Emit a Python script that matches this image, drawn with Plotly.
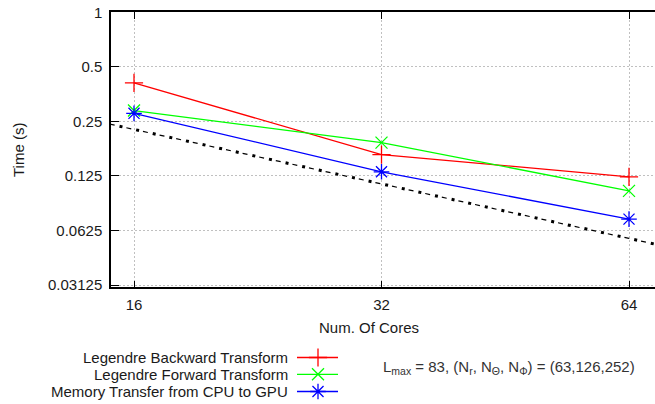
import plotly.graph_objects as go
import math

# ---------------- data ----------------
cores = [16, 32, 64]
backward = [0.408, 0.164, 0.1236]
forward = [0.287, 0.191, 0.1034]
memcopy = [0.277, 0.1318, 0.0722]
ideal_cores = [14, 16, 32, 64, 72]
ideal_time = [0.258, 0.226, 0.113, 0.0565, 0.0502]
y_ticks = [1, 0.5, 0.25, 0.125, 0.0625, 0.03125]
y_ticktext = ["1", "0.5", "0.25", "0.125", "0.0625", "0.03125"]
x_ticks = [16, 32, 64]
series_names = ["Legendre Backward Transform", "Legendre Forward Transform",
                "Memory Transfer from CPU to GPU"]

W, H = 655, 404
FONT = "Liberation Sans, Arial, sans-serif"
TXT = "#1a1a1a"
FS = 15
colors = ["#ff0000", "#00ff00", "#0000ff"]
symbols = ["cross-thin", "x-thin", "asterisk"]
msizes = [13, 12, 13]

# plot area in pixels
PL, PR, PT, PB = 111, 655, 12, 287.3

fig = go.Figure()

for vals, name, c, s, ms in zip([backward, forward, memcopy], series_names, colors, symbols, msizes):
    fig.add_trace(go.Scatter(
        x=cores, y=vals, mode="lines+markers", name=name, showlegend=False,
        line=dict(color=c, width=1.3),
        marker=dict(symbol=s, size=ms, color=c, line=dict(color=c, width=1.3)),
        xaxis="x", yaxis="y"))

# ideal scaling line: dashes + dots
fig.add_trace(go.Scatter(x=ideal_cores, y=ideal_time, mode="lines", showlegend=False,
                         line=dict(color="black", width=1.2, dash="0px,7px,5px,5px"),
                         xaxis="x", yaxis="y", hoverinfo="skip"))
fig.add_trace(go.Scatter(x=ideal_cores, y=ideal_time, mode="lines", showlegend=False,
                         line=dict(color="black", width=3, dash="3px,14px"),
                         xaxis="x", yaxis="y", hoverinfo="skip"))

# custom legend (samples to the right of the text), on a pixel overlay axis
leg_rows = [357.5, 374.3, 391.5]
for yy, name, c, s, ms in zip(leg_rows, series_names, colors, symbols, msizes):
    fig.add_trace(go.Scatter(x=[297, 338], y=[yy, yy], mode="lines", showlegend=False,
                             line=dict(color=c, width=1.3), xaxis="x2", yaxis="y2",
                             hoverinfo="skip"))
    fig.add_trace(go.Scatter(x=[318], y=[yy], mode="markers", showlegend=False,
                             marker=dict(symbol=s, size=ms, color=c, line=dict(color=c, width=1.3)),
                             xaxis="x2", yaxis="y2", hoverinfo="skip"))

annotations = []
for yy, name in zip(leg_rows, series_names):
    annotations.append(dict(x=290, y=yy, xref="x2", yref="y2", text=name, showarrow=False,
                            xanchor="right", yanchor="middle",
                            font=dict(family=FONT, size=FS, color=TXT)))
annotations.append(dict(x=509, y=367, xref="x2", yref="y2",
                        text="L<sub>max</sub> = 83, (N<sub>r</sub>, N<sub>\u0398</sub>, N<sub>\u03a6</sub>) = (63,126,252)",
                        showarrow=False, xanchor="center", yanchor="middle",
                        font=dict(family=FONT, size=15, color="#333333")))
annotations.append(dict(x=18, y=150, xref="x2", yref="y2", text="Time (s)", textangle=-90,
                        showarrow=False, xanchor="center", yanchor="middle",
                        font=dict(family=FONT, size=FS, color=TXT)))
annotations.append(dict(x=369, y=327, xref="x2", yref="y2", text="Num. Of Cores",
                        showarrow=False, xanchor="center", yanchor="middle",
                        font=dict(family=FONT, size=FS, color=TXT)))

# axis ranges (log2 positions)
x_lo = 4 - (134 - PL) / 247.5
x_hi = 4 + (PR - 134) / 247.5
y_lo = -5 - (PB - 285) / 54.5
y_hi = 0.002

fig.update_layout(
    width=W, height=H,
    margin=dict(l=0, r=0, t=0, b=0, autoexpand=False),
    paper_bgcolor="white", plot_bgcolor="rgba(0,0,0,0)",
    showlegend=False,
    annotations=annotations,
    xaxis=dict(type="log", domain=[PL / W, 1.0], automargin=False,
               range=[x_lo * math.log10(2), x_hi * math.log10(2)],
               tickvals=x_ticks, ticktext=[str(v) for v in x_ticks],
               ticks="inside", ticklen=7, tickwidth=1, tickcolor="black",
               showline=True, linecolor="black", linewidth=1.6, mirror="ticks",
               showgrid=True, gridcolor="#c0c0c0", gridwidth=1, griddash="2px,2px",
               zeroline=False, ticklabelstandoff=3,
               tickfont=dict(family=FONT, size=FS, color=TXT), anchor="y"),
    yaxis=dict(type="log", domain=[1 - PB / H, 1 - PT / H], automargin=False,
               range=[y_lo * math.log10(2), y_hi],
               tickvals=y_ticks, ticktext=y_ticktext,
               ticks="inside", ticklen=8, tickwidth=1, tickcolor="black",
               showline=True, linecolor="black", linewidth=1.5, mirror=False,
               showgrid=True, gridcolor="#c0c0c0", gridwidth=1, griddash="2px,2px",
               zeroline=False, ticklabelstandoff=4,
               tickfont=dict(family=FONT, size=FS, color=TXT), anchor="x"),
    xaxis2=dict(domain=[0, 1], range=[0, W], visible=False, anchor="y2", fixedrange=True),
    yaxis2=dict(domain=[0, 1], range=[H, 0], visible=False, anchor="x2", fixedrange=True),
)

fig.write_html("out.html", config={"displayModeBar": False},
               post_script="document.body.style.margin='0px';document.body.style.overflow='hidden';")
